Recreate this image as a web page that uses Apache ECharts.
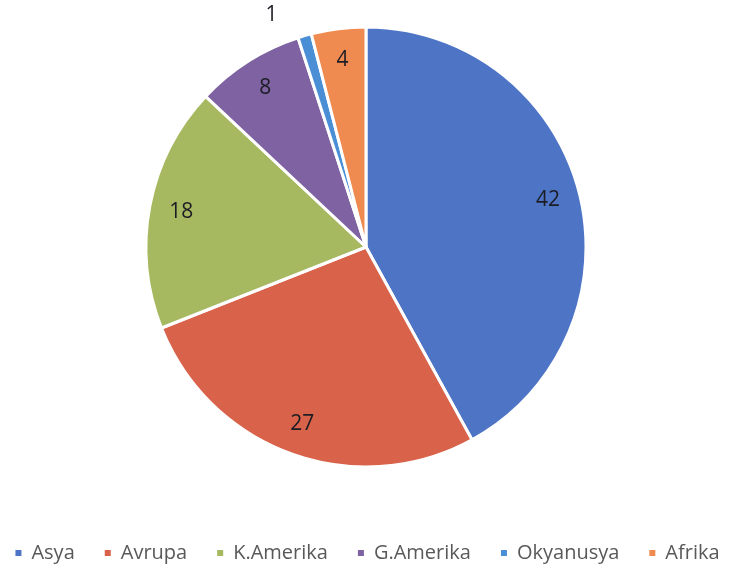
<!DOCTYPE html>
<html>
<head>
<meta charset="utf-8">
<script src="https://cdn.jsdelivr.net/npm/echarts@6/dist/echarts.min.js"></script>
<style>
  html, body { margin: 0; padding: 0; background: #fff; }
  #chart { width: 733px; height: 570px; }
</style>
</head>
<body>
<div id="chart"></div>
<script>
// Share of each continent (percent)
const regions = ['Asya', 'Avrupa', 'K.Amerika', 'G.Amerika', 'Okyanusya', 'Afrika'];
const shares = [42, 27, 18, 8, 1, 4];
const palette = ['#4E74C6', '#D8624A', '#A6B961', '#7E62A1', '#4A8ED6', '#EF8A50'];

const FONT = '"Open Sans", sans-serif';
const center = [366, 247];

const sliceData = regions.map((name, i) => ({
  name,
  value: shares[i],
  itemStyle: { color: palette[i] }
}));

// Labels ride on a transparent ring near the rim; the tiny slice gets an outside label
const labelData = regions.map((name, i) => {
  const item = { name, value: shares[i] };
  if (shares[i] < 2) {
    item.label = {
      position: 'outside',
      padding: [0, 16, 0, 0]
    };
    item.labelLine = { show: false, length: 24, length2: 0 };
  }
  return item;
});

const chart = echarts.init(document.getElementById('chart'));
chart.setOption({
  animation: false,
  color: palette,
  legend: {
    bottom: 2,
    left: 'center',
    icon: 'rect',
    itemWidth: 8,
    itemHeight: 8,
    itemGap: 28,
    textStyle: { fontFamily: FONT, fontSize: 20, color: '#595959', padding: [0, 0, 0, 4] },
    data: regions
  },
  series: [
    {
      type: 'pie',
      center,
      radius: [0, 220],
      startAngle: 90,
      clockwise: true,
      silent: true,
      label: { show: false },
      labelLine: { show: false },
      itemStyle: { borderColor: '#ffffff', borderWidth: 3 },
      data: sliceData
    },
    {
      type: 'pie',
      center,
      radius: [152, 218],
      startAngle: 90,
      clockwise: true,
      silent: true,
      legendHoverLink: false,
      itemStyle: { color: 'rgba(0,0,0,0)' },
      label: {
        show: true,
        position: 'inside',
        formatter: '{c}',
        fontFamily: FONT,
        fontSize: 21,
        color: '#1c1c24'
      },
      labelLine: { show: false },
      data: labelData
    }
  ]
});
</script>
</body>
</html>
